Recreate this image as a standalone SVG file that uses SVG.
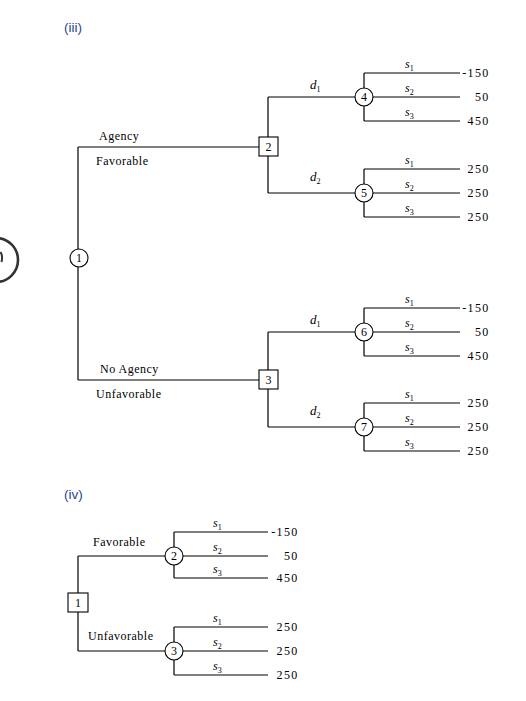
<svg xmlns="http://www.w3.org/2000/svg" width="526" height="701" viewBox="0 0 526 701">
<style>
.bg{fill:#fff}
.ln{stroke:#000;stroke-width:1.2;fill:none}
.nd{fill:#fff;stroke:#000;stroke-width:1.1}
.nt{font-family:"Liberation Serif","Times New Roman",serif;font-size:12px;fill:#000;text-anchor:middle}
.lb{font-family:"Liberation Serif","Times New Roman",serif;font-size:12px;fill:#000;letter-spacing:0.5px}
.v{font-family:"Liberation Serif","Times New Roman",serif;font-size:12px;fill:#000;text-anchor:end;letter-spacing:1.3px}
.s{font-family:"Liberation Serif","Times New Roman",serif;font-size:12px;font-style:italic;fill:#000}
.d{font-family:"Liberation Serif","Times New Roman",serif;font-size:13px;font-style:italic;fill:#000}
.sub{font-size:8px;font-style:normal}
.hd{font-family:"Liberation Sans",Arial,sans-serif;font-size:13.5px;fill:#2a4590}
</style>
<rect class="bg" x="0" y="0" width="526" height="701"/>
<g id="marker-circle">
<circle cx="-4" cy="260" r="22" fill="none" stroke="#333" stroke-width="2.6"/>
<path d="M0.5 252 Q3 256 1.5 262" fill="none" stroke="#333" stroke-width="2"/>
</g>
<text class="hd" x="64" y="32">(iii)</text>
<text class="hd" x="64" y="499">(iv)</text>
<g id="connectors">
<path class="ln" d="M78 147V380M78 147H259M78 380H259"/>
<path class="ln" d="M268 97V193M268 97H356M268 193H355"/>
<path class="ln" d="M268 332V427M268 332H355M268 427H355"/>
<path class="ln" d="M364 73V121M364 73H460M373 97H460M364 121H460"/>
<path class="ln" d="M364 169V217M364 169H460M373 193H460M364 217H460"/>
<path class="ln" d="M364 308V356M364 308H460M373 332H460M364 356H460"/>
<path class="ln" d="M364 403V451M364 403H460M373 427H460M364 451H460"/>
<path class="ln" d="M78 556V651M78 556H165M78 651H165"/>
<path class="ln" d="M174 532V578M174 532H268M183 556H268M174 578H268"/>
<path class="ln" d="M174 627V675M174 627H268M183 651H268M174 675H268"/>
</g>
<g id="labels">
<text class="lb" x="99" y="140">Agency</text>
<text class="lb" x="96" y="165">Favorable</text>
<text class="lb" x="100" y="373">No Agency</text>
<text class="lb" x="96" y="398">Unfavorable</text>
<text class="d" x="310" y="89">d<tspan class="sub" dy="3">1</tspan></text>
<text class="d" x="310" y="181">d<tspan class="sub" dy="3">2</tspan></text>
<text class="d" x="310" y="324">d<tspan class="sub" dy="3">1</tspan></text>
<text class="d" x="310" y="415">d<tspan class="sub" dy="3">2</tspan></text>
<text class="s" x="405" y="68">s<tspan class="sub" dy="3">1</tspan></text>
<text class="s" x="405" y="92">s<tspan class="sub" dy="3">2</tspan></text>
<text class="s" x="405" y="116">s<tspan class="sub" dy="3">3</tspan></text>
<text class="s" x="405" y="164">s<tspan class="sub" dy="3">1</tspan></text>
<text class="s" x="405" y="188">s<tspan class="sub" dy="3">2</tspan></text>
<text class="s" x="405" y="212">s<tspan class="sub" dy="3">3</tspan></text>
<text class="s" x="405" y="303">s<tspan class="sub" dy="3">1</tspan></text>
<text class="s" x="405" y="327">s<tspan class="sub" dy="3">2</tspan></text>
<text class="s" x="405" y="351">s<tspan class="sub" dy="3">3</tspan></text>
<text class="s" x="405" y="398">s<tspan class="sub" dy="3">1</tspan></text>
<text class="s" x="405" y="422">s<tspan class="sub" dy="3">2</tspan></text>
<text class="s" x="405" y="446">s<tspan class="sub" dy="3">3</tspan></text>
<text class="v" x="489.5" y="77">-150</text>
<text class="v" x="489.5" y="101">50</text>
<text class="v" x="489.5" y="125">450</text>
<text class="v" x="489.5" y="173">250</text>
<text class="v" x="489.5" y="197">250</text>
<text class="v" x="489.5" y="221">250</text>
<text class="v" x="489.5" y="312">-150</text>
<text class="v" x="489.5" y="336">50</text>
<text class="v" x="489.5" y="360">450</text>
<text class="v" x="489.5" y="407">250</text>
<text class="v" x="489.5" y="431">250</text>
<text class="v" x="489.5" y="455">250</text>
<text class="lb" x="93" y="546">Favorable</text>
<text class="lb" x="88" y="640">Unfavorable</text>
<text class="s" x="213" y="527">s<tspan class="sub" dy="3">1</tspan></text>
<text class="s" x="213" y="551">s<tspan class="sub" dy="3">2</tspan></text>
<text class="s" x="213" y="573">s<tspan class="sub" dy="3">3</tspan></text>
<text class="s" x="213" y="622">s<tspan class="sub" dy="3">1</tspan></text>
<text class="s" x="213" y="646">s<tspan class="sub" dy="3">2</tspan></text>
<text class="s" x="213" y="670">s<tspan class="sub" dy="3">3</tspan></text>
<text class="v" x="298.5" y="536">-150</text>
<text class="v" x="298.5" y="560">50</text>
<text class="v" x="298.5" y="582">450</text>
<text class="v" x="298.5" y="631">250</text>
<text class="v" x="298.5" y="655">250</text>
<text class="v" x="298.5" y="679">250</text>
</g>
<g id="node-iii-1"><circle class="nd" cx="79" cy="258" r="9"/><text class="nt" x="79" y="262">1</text></g>
<g id="node-iii-2"><rect class="nd" x="259" y="137" width="19" height="19"/><text class="nt" x="268.5" y="151">2</text></g>
<g id="node-iii-3"><rect class="nd" x="259" y="370" width="19" height="19"/><text class="nt" x="268.5" y="384">3</text></g>
<g id="node-iii-4"><circle class="nd" cx="364" cy="97" r="9"/><text class="nt" x="364" y="101">4</text></g>
<g id="node-iii-5"><circle class="nd" cx="364" cy="193" r="9"/><text class="nt" x="364" y="197">5</text></g>
<g id="node-iii-6"><circle class="nd" cx="364" cy="332" r="9"/><text class="nt" x="364" y="336">6</text></g>
<g id="node-iii-7"><circle class="nd" cx="364" cy="427" r="9"/><text class="nt" x="364" y="431">7</text></g>
<g id="node-iv-1"><rect class="nd" x="68" y="593" width="20" height="19"/><text class="nt" x="78" y="607">1</text></g>
<g id="node-iv-2"><circle class="nd" cx="174" cy="556" r="9"/><text class="nt" x="174" y="560">2</text></g>
<g id="node-iv-3"><circle class="nd" cx="174" cy="651" r="9"/><text class="nt" x="174" y="655">3</text></g>
</svg>
